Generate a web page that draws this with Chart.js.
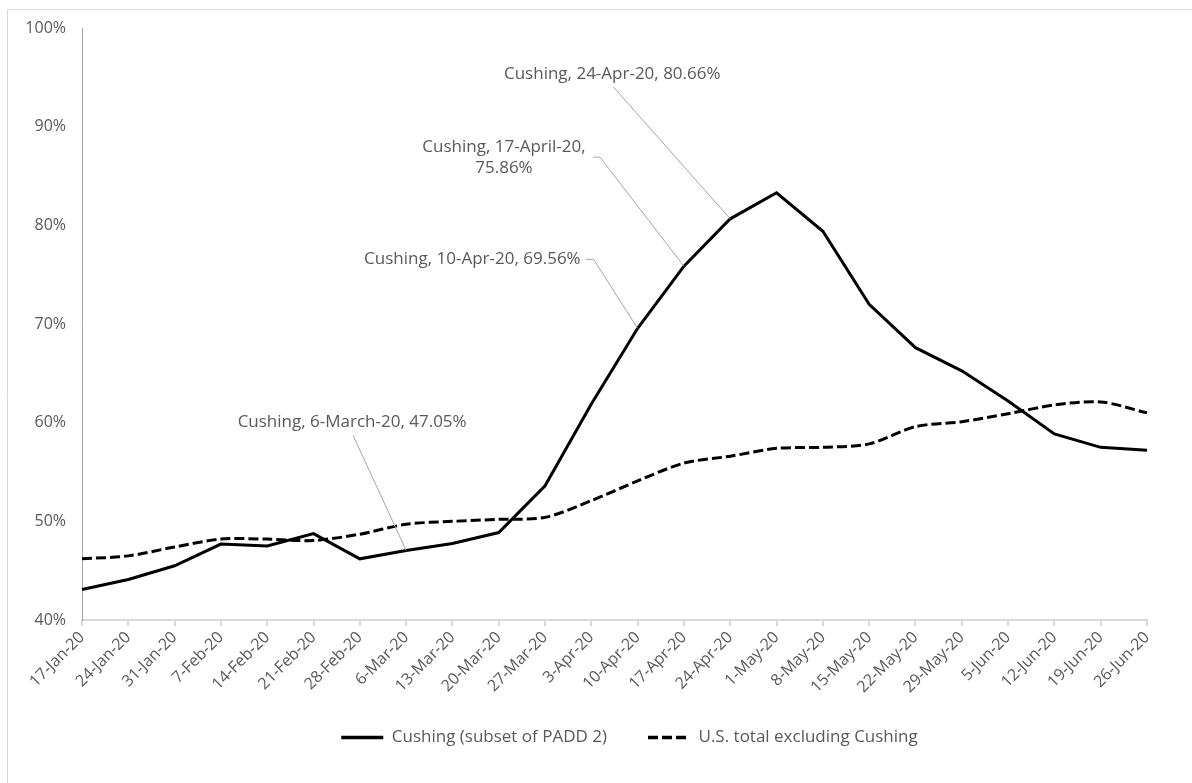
<!DOCTYPE html>
<html>
<head>
<meta charset="utf-8">
<script src="https://cdn.jsdelivr.net/npm/chart.js@4/dist/chart.umd.min.js"></script>
<style>
  html, body { margin: 0; padding: 0; background: #ffffff; }
  #wrap { width: 1192px; height: 783px; position: relative; }
</style>
</head>
<body>
<div id="wrap"><canvas id="c" width="1192" height="783"></canvas></div>
<script>
const categories = ["17-Jan-20","24-Jan-20","31-Jan-20","7-Feb-20","14-Feb-20","21-Feb-20","28-Feb-20","6-Mar-20","13-Mar-20","20-Mar-20","27-Mar-20","3-Apr-20","10-Apr-20","17-Apr-20","24-Apr-20","1-May-20","8-May-20","15-May-20","22-May-20","29-May-20","5-Jun-20","12-Jun-20","19-Jun-20","26-Jun-20"];
const cushing = [43.1,44.1,45.5,47.7,47.5,48.76,46.2,47.05,47.75,48.86,53.6,61.9,69.56,75.86,80.66,83.3,79.4,72.0,67.6,65.25,62.2,58.86,57.5,57.2];
const usTotal = [46.2,46.5,47.4,48.2,48.2,48.06,48.7,49.7,50.0,50.2,50.4,52.1,54.1,55.9,56.6,57.4,57.5,57.85,59.6,60.1,60.9,61.8,62.1,61.0];
const yTicks = [40,50,60,70,80,90,100];
const seriesNames = ["Cushing (subset of PADD 2)","U.S. total excluding Cushing"];
const callouts = [
  { index: 7,  lines: ["Cushing, 6-March-20, 47.05%"] },
  { index: 12, lines: ["Cushing, 10-Apr-20, 69.56%"] },
  { index: 13, lines: ["Cushing, 17-April-20,", "75.86%"] },
  { index: 14, lines: ["Cushing, 24-Apr-20, 80.66%"] }
];

const FONT = "'Open Sans', 'Noto Sans', sans-serif";
const GRAY_TEXT = "#595959";

// placement of callout text relative to its data point (styling only)
const calloutLayout = {
  7:  { dx: -54,  dy: -128,  align: "center", leader: [[-53, -115]] },
  12: { dx: -57,  dy: -69,   align: "right",  leader: [[-52, -69], [-44, -69]] },
  13: { dx: -180, dy: -108.5, align: "center", leader: [[-91, -109], [-84, -109]] },
  14: { dx: -118, dy: -145,  align: "center", leader: [[-117, -132]] }
};

const framePlugin = {
  id: "frame",
  beforeDraw(chart) {
    const ctx = chart.ctx;
    ctx.save();
    ctx.fillStyle = "#ffffff";
    ctx.fillRect(0, 0, chart.width, chart.height);
    ctx.strokeStyle = "#d9d9d9";
    ctx.lineWidth = 1;
    ctx.beginPath();
    ctx.moveTo(7.5, chart.height);
    ctx.lineTo(7.5, 9.5);
    ctx.lineTo(chart.width, 9.5);
    ctx.stroke();
    ctx.restore();
  }
};

const layoutTweak = {
  id: "layoutTweak",
  afterLayout(chart) {
    const lg = chart.legend;
    if (lg) { lg.left += 51; lg.right += 51; }
    // let rotated x labels extend below the axis box without being clipped
    const xs = chart.scales.x;
    if (xs) { xs.bottom += 40; }
  }
};

const calloutPlugin = {
  id: "callouts",
  afterDatasetsDraw(chart) {
    const ctx = chart.ctx;
    const xs = chart.scales.x, ys = chart.scales.y;
    ctx.save();
    callouts.forEach(c => {
      const px = xs.getPixelForValue(c.index);
      const py = ys.getPixelForValue(cushing[c.index]);
      const lay = calloutLayout[c.index];
      ctx.strokeStyle = "#a6a6a6";
      ctx.lineWidth = 1;
      ctx.setLineDash([]);
      ctx.beginPath();
      lay.leader.forEach((p, i) => {
        const lx = px + p[0], ly = py + p[1];
        if (i === 0) ctx.moveTo(lx, ly); else ctx.lineTo(lx, ly);
      });
      ctx.lineTo(px, py);
      ctx.stroke();
      ctx.fillStyle = GRAY_TEXT;
      ctx.font = "17px " + FONT;
      ctx.textBaseline = "middle";
      ctx.textAlign = lay.align;
      const lh = 21.5;
      const n = c.lines.length;
      c.lines.forEach((t, i) => {
        const ty = py + lay.dy + (i - (n - 1) / 2) * lh;
        ctx.fillText(t, px + lay.dx, ty);
      });
    });
    ctx.restore();
  }
};

new Chart(document.getElementById("c"), {
  type: "line",
  data: {
    labels: categories,
    datasets: [
      {
        label: seriesNames[0],
        data: cushing,
        borderColor: "#000000",
        backgroundColor: "#000000",
        borderWidth: 3,
        pointRadius: 0,
        tension: 0,
        fill: false
      },
      {
        label: seriesNames[1],
        data: usTotal,
        borderColor: "#000000",
        backgroundColor: "#000000",
        borderWidth: 3,
        borderDash: [10, 4],
        pointRadius: 0,
        tension: 0.3,
        fill: false
      }
    ]
  },
  options: {
    responsive: false,
    animation: false,
    devicePixelRatio: 1,
    layout: { padding: { left: 10, right: 45, top: 28, bottom: 27 } },
    plugins: {
      tooltip: { enabled: false },
      legend: {
        position: "bottom",
        labels: {
          usePointStyle: true,
          pointStyle: "line",
          pointStyleWidth: 42,
          padding: 41,
          color: GRAY_TEXT,
          font: { family: FONT, size: 17 },
          generateLabels(chart) {
            const items = Chart.defaults.plugins.legend.labels.generateLabels(chart);
            return items.map(it => {
              const ds = chart.data.datasets[it.datasetIndex];
              it.lineDash = ds.borderDash || [];
              it.lineWidth = 3.5;
              it.strokeStyle = "#000000";
              it.fillStyle = "#000000";
              it.pointStyle = "line";
              return it;
            });
          }
        }
      }
    },
    scales: {
      x: {
        offset: false,
        grid: { display: true, drawOnChartArea: false, drawTicks: true, tickLength: 6, color: "#d9d9d9", lineWidth: 2 },
        border: { display: true, color: "#d9d9d9", width: 2 },
        ticks: {
          minRotation: 45, maxRotation: 45, autoSkip: false,
          color: GRAY_TEXT, font: { family: FONT, size: 16 }, padding: 2
        },
        afterFit(scale) { scale.height = 68; }
      },
      y: {
        min: 40, max: 100,
        afterBuildTicks(scale) { scale.ticks = yTicks.map(v => ({ value: v })); },
        grid: { display: false, drawTicks: false },
        border: { display: true, color: "#a6a6a6", width: 1 },
        ticks: {
          color: GRAY_TEXT, font: { family: FONT, size: 16 }, padding: 16,
          callback: v => v + "%"
        },
        afterFit(scale) { scale.width = 72; }
      }
    }
  },
  plugins: [framePlugin, layoutTweak, calloutPlugin]
});
</script>
</body>
</html>
